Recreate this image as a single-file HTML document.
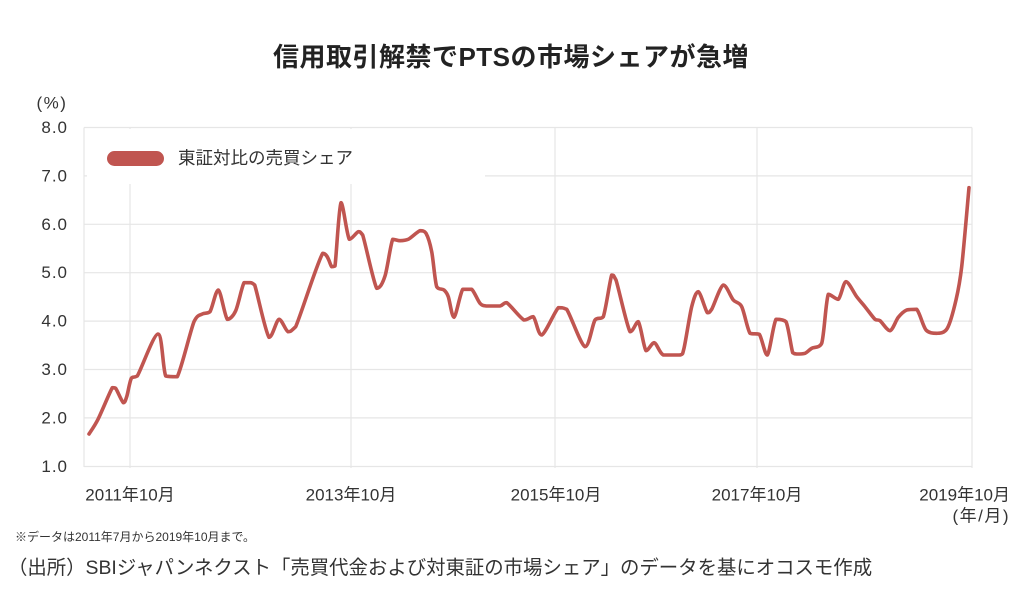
<!DOCTYPE html>
<html>
<head>
<meta charset="utf-8">
<style>
  html,body{margin:0;padding:0;background:#fff;}
  body{width:1024px;height:590px;overflow:hidden;}
  svg{display:block;}
  text{font-family:"Liberation Sans","Noto Sans CJK JP",sans-serif;fill:#333;}
</style>
</head>
<body>
<svg width="1024" height="590" viewBox="0 0 1024 590" xmlns="http://www.w3.org/2000/svg">
  <rect x="0" y="0" width="1024" height="590" fill="#fff"/>

  <!-- Title -->
  <text x="511" y="57" text-anchor="middle" dominant-baseline="central" font-size="26" font-weight="bold" letter-spacing="0.5" style="fill:#222">信用取引解禁でPTSの市場シェアが急増</text>

  <!-- unit -->
  <text x="52" y="103" text-anchor="middle" dominant-baseline="central" font-size="17" letter-spacing="1.5">(%)</text>

  <!-- gridlines -->
  <g stroke="#e6e6e6" stroke-width="1.2">
    <line x1="84" y1="127.5" x2="972" y2="127.5"/>
    <line x1="84" y1="175.9" x2="972" y2="175.9"/>
    <line x1="84" y1="224.3" x2="972" y2="224.3"/>
    <line x1="84" y1="272.7" x2="972" y2="272.7"/>
    <line x1="84" y1="321.1" x2="972" y2="321.1"/>
    <line x1="84" y1="369.5" x2="972" y2="369.5"/>
    <line x1="84" y1="417.9" x2="972" y2="417.9"/>
    <line x1="84" y1="466.5" x2="972" y2="466.5"/>
    <line x1="84" y1="127.5" x2="84" y2="467"/>
    <line x1="130" y1="127.5" x2="130" y2="468"/>
    <line x1="351" y1="127.5" x2="351" y2="468"/>
    <line x1="555" y1="127.5" x2="555" y2="468"/>
    <line x1="757" y1="127.5" x2="757" y2="468"/>
    <line x1="972" y1="127.5" x2="972" y2="468"/>
  </g>

  <!-- legend -->
  <rect x="87" y="129" width="398" height="55" fill="#fff"/>
  <rect x="107" y="151" width="57" height="15" rx="7.5" ry="7.5" fill="#c05550"/>
  <text x="178" y="158" dominant-baseline="central" font-size="17.5">東証対比の売買シェア</text>

  <!-- y labels -->
  <g font-size="17" text-anchor="end" letter-spacing="1">
    <text x="68" y="127.5" dominant-baseline="central">8.0</text>
    <text x="68" y="175.9" dominant-baseline="central">7.0</text>
    <text x="68" y="224.3" dominant-baseline="central">6.0</text>
    <text x="68" y="272.7" dominant-baseline="central">5.0</text>
    <text x="68" y="321.1" dominant-baseline="central">4.0</text>
    <text x="68" y="369.5" dominant-baseline="central">3.0</text>
    <text x="68" y="417.9" dominant-baseline="central">2.0</text>
    <text x="68" y="466.5" dominant-baseline="central">1.0</text>
  </g>

  <!-- data line -->
  <polyline id="pl" fill="none" stroke="#c05550" stroke-width="3.6" stroke-linejoin="round" stroke-linecap="round"
    points="89,434 98,419.3 112.3,387.7 115.7,388.3 123.3,402.7 126.7,396.7 131.3,378.3 137.3,376 158,334 165.7,376 177.3,376.7 194,321.7 202.3,314 210,311.7 218.3,290 227.3,319.3 235.7,310.7 244,282.7 250.7,282.7 254.7,285 269,337.3 279,319.3 288,331.7 295.7,326.7 322.7,253.3 331.7,266.7 335,266 341,202.7 349.3,239.3 358.3,231.7 362.7,235 376.7,288.3 385,276 392.7,239.3 400,240.7 408.3,239.3 420,230.7 426,233.3 431.7,251.7 436.7,286.7 444,290 448.3,296.7 454,317.3 462.7,289.3 471.7,289.3 480,303.3 486.7,306 500,306 506.7,302.7 524,320 533.3,316.7 541.7,335 558.3,307.7 566.7,309.3 585,346.7 595,320 603.3,316.7 611.7,275 616,280 630,331.7 638.3,321.7 646,350.7 654.3,342.7 663.3,355 680,355 684,348.3 691.7,306.7 698.3,291.7 707.3,312.7 711.7,309.3 723.3,285 733.3,300 741.7,306.7 750,333.3 759.3,334.3 767.3,355 776,319.3 786,321.7 792.7,352.7 796.7,354 805,353.3 811.7,348.3 821.7,343.3 828.3,294.3 838.3,299.3 846,281.7 856.7,296.7 865,306.7 875,319.3 880,320.7 890,330.7 898.3,317.3 906.7,310 916.7,309.3 926,330 936.7,333.3 947.3,328.3 956,300 961.7,266.7 969,187.7"/>
  <path id="sm" fill="none" stroke="#c05550" stroke-width="3.6" stroke-linejoin="round" stroke-linecap="round" d=""/>

  <!-- x labels -->
  <g font-size="17">
    <text x="130" y="495" text-anchor="middle" dominant-baseline="central">2011年10月</text>
    <text x="351" y="495" text-anchor="middle" dominant-baseline="central">2013年10月</text>
    <text x="556" y="495" text-anchor="middle" dominant-baseline="central">2015年10月</text>
    <text x="757" y="495" text-anchor="middle" dominant-baseline="central">2017年10月</text>
    <text x="1010" y="495" text-anchor="end" dominant-baseline="central">2019年10月</text>
    <text x="1010" y="516" text-anchor="end" dominant-baseline="central" letter-spacing="1.5">(年/月)</text>
  </g>

  <!-- footnotes -->
  <text x="15" y="537" dominant-baseline="central" font-size="12">※データは2011年7月から2019年10月まで。</text>
  <text x="8" y="568" dominant-baseline="central" font-size="19.4">（出所）SBIジャパンネクスト「売買代金および対東証の市場シェア」のデータを基にオコスモ作成</text>
</svg>
<script>
(function(){
  try{
    var pl=document.getElementById('pl');
    var raw=pl.getAttribute('points').trim().split(/\s+/).map(function(s){var a=s.split(',');return [parseFloat(a[0]),parseFloat(a[1])];});
    var n=raw.length, d='M'+raw[0][0]+','+raw[0][1];
    function cl(v,a,b){var lo=Math.min(a,b),hi=Math.max(a,b);return v<lo?lo:(v>hi?hi:v);}
    for(var i=0;i<n-1;i++){
      var p0=raw[i>0?i-1:i],p1=raw[i],p2=raw[i+1],p3=raw[i+2<n?i+2:i+1];
      var t=0.15;
      var c1x=p1[0]+(p2[0]-p0[0])*t,c1y=p1[1]+(p2[1]-p0[1])*t;
      var c2x=p2[0]-(p3[0]-p1[0])*t,c2y=p2[1]-(p3[1]-p1[1])*t;
      c1y=cl(c1y,p1[1],p2[1]); c2y=cl(c2y,p1[1],p2[1]);
      c1x=cl(c1x,p1[0],p2[0]); c2x=cl(c2x,p1[0],p2[0]);
      d+=' C'+c1x.toFixed(2)+','+c1y.toFixed(2)+' '+c2x.toFixed(2)+','+c2y.toFixed(2)+' '+p2[0]+','+p2[1];
    }
    document.getElementById('sm').setAttribute('d',d);
    pl.setAttribute('visibility','hidden');
  }catch(e){}
})();
</script>
</body>
</html>
